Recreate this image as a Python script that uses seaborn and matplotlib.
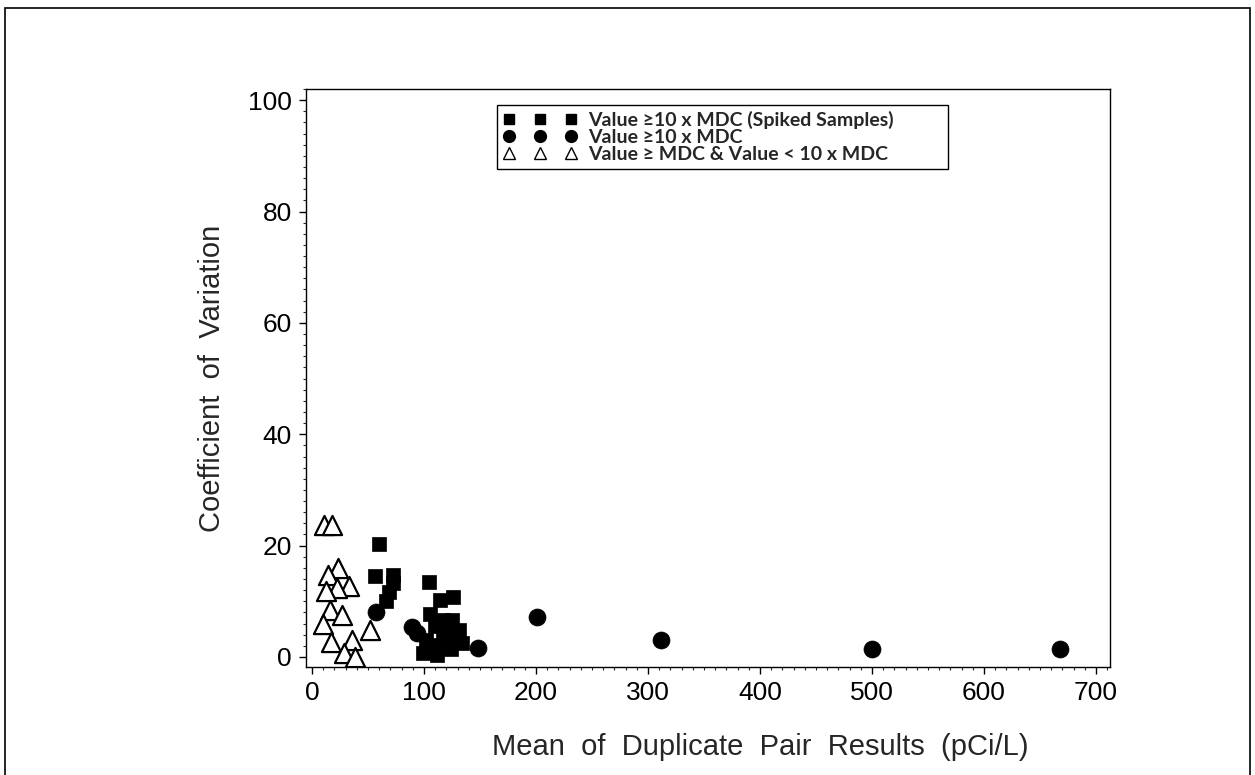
import matplotlib
matplotlib.use("Agg")
import matplotlib.pyplot as plt
from matplotlib.lines import Line2D
from matplotlib.patches import Rectangle
from matplotlib.ticker import MultipleLocator
import numpy as np
import pandas as pd
import seaborn as sns

# Spiked samples (value >= 10 x MDC)
spiked_mean = [60, 56, 72, 72, 69, 66, 104, 114, 126, 105, 117, 125, 131, 134,
               99, 112, 117, 121, 120, 108, 102, 110, 124, 115, 128, 106]
spiked_cv = [20.3, 14.5, 14.8, 13.3, 11.6, 10.1, 13.5, 10.3, 10.7, 7.8, 6.6, 6.6, 4.8, 2.5,
             0.7, 0.4, 3.6, 4.8, 2.5, 2.1, 3.0, 5.5, 1.5, 1.8, 3.2, 1.2]

# Regular samples (value >= 10 x MDC)
high_mean = [57, 89, 94, 148, 201, 312, 500, 668]
high_cv = [8.0, 5.3, 4.3, 1.6, 7.1, 3.0, 1.4, 1.4]

# Samples with MDC <= value < 10 x MDC
low_mean = [11, 18, 23, 14, 33, 22, 12.5, 16, 27, 10, 52, 17, 36, 28.5, 38.5]
low_cv = [23.7, 23.7, 16.0, 14.8, 12.8, 12.3, 11.9, 8.5, 7.5, 6.0, 4.8, 2.7, 3.0, 0.7, 0.0]

legend_labels = ["Value \u226510 x MDC (Spiked Samples)",
                 "Value \u226510 x MDC",
                 "Value \u2265 MDC & Value < 10 x MDC"]

x_ticks = [0, 100, 200, 300, 400, 500, 600, 700]
y_ticks = [0, 20, 40, 60, 80, 100]

sns.set_style("ticks")
plt.rcParams["font.family"] = ["Liberation Sans", "DejaVu Sans"]
plt.rcParams["axes.linewidth"] = 1.0

fig = plt.figure(figsize=(12.55, 7.75), dpi=100)
ax = fig.add_axes([306 / 1255, 1 - 667 / 775, 804 / 1255, 578 / 775])

df_spiked = pd.DataFrame({"mean": spiked_mean, "cv": spiked_cv})
df_high = pd.DataFrame({"mean": high_mean, "cv": high_cv})
df_low = pd.DataFrame({"mean": low_mean, "cv": low_cv})

sns.scatterplot(data=df_low, x="mean", y="cv", ax=ax, marker="^", s=190,
                facecolor="white", edgecolor="black", linewidth=1.6, zorder=3)
sns.scatterplot(data=df_spiked, x="mean", y="cv", ax=ax, marker="s", s=110,
                color="black", edgecolor="black", linewidth=0.5, zorder=4)
sns.scatterplot(data=df_high, x="mean", y="cv", ax=ax, marker="o", s=150,
                color="black", edgecolor="black", linewidth=0.5, zorder=4)

ax.set_xlim(-5.4, 712.5)
ax.set_ylim(-1.8, 102)
ax.set_xticks(x_ticks)
ax.set_yticks(y_ticks)
ax.xaxis.set_minor_locator(MultipleLocator(10))
ax.yaxis.set_minor_locator(MultipleLocator(2))
ax.tick_params(which="major", direction="out", length=5, width=1, labelsize=19,
               colors="black", pad=5)
ax.tick_params(which="minor", direction="out", length=2.5, width=0.8)

for side in ["top", "right", "left", "bottom"]:
    ax.spines[side].set_visible(True)
    ax.spines[side].set_color("black")

ax.set_xlabel("Mean  of  Duplicate  Pair  Results  (pCi/L)", fontsize=21, labelpad=14)
ax.xaxis.set_label_coords(0.565, -0.115)
ax.set_ylabel("Coefficient  of  Variation", fontsize=21, labelpad=16)

handles = [
    Line2D([], [], linestyle="none", marker="s", markersize=7.5,
           markerfacecolor="black", markeredgecolor="black"),
    Line2D([], [], linestyle="none", marker="o", markersize=8.5,
           markerfacecolor="black", markeredgecolor="black"),
    Line2D([], [], linestyle="none", marker="^", markersize=8,
           markerfacecolor="white", markeredgecolor="black", markeredgewidth=1.0),
]
leg = ax.legend(handles, legend_labels, numpoints=3, loc="upper left",
                bbox_to_anchor=(0.2376, 0.846, 0.561, 0.126), mode="expand",
                frameon=True, fancybox=False, framealpha=1, edgecolor="black",
                borderaxespad=0, handlelength=3.8, handletextpad=0.6,
                labelspacing=0.0, borderpad=0.3,
                prop={"family": ["Lato", "DejaVu Sans"], "size": 14, "weight": "bold"})
leg.get_frame().set_linewidth(1.0)

# Outer frame around the whole figure
fig.patches.append(Rectangle((5 / 1255, -0.01), 1245 / 1255, 1 - 8 / 775 + 0.01,
                             transform=fig.transFigure, fill=False,
                             edgecolor="black", linewidth=1.2))

fig.savefig("out.png", dpi=100)
